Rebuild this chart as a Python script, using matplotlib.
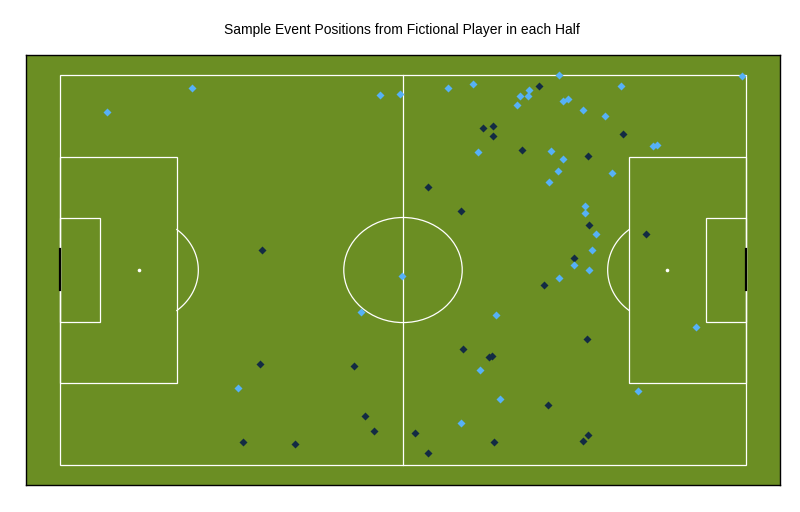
import matplotlib
matplotlib.use("Agg")
import matplotlib.pyplot as plt
from matplotlib.patches import Rectangle, Ellipse, Arc
import numpy as np

plt.rcParams['font.family'] = ['Liberation Sans', 'DejaVu Sans']

title = "Sample Event Positions from Fictional Player in each Half"

# Opta-style coordinates (0-100 both axes)
first_half_x = [69.8, 61.6, 63.1, 63.2, 82.1, 67.3, 76.95, 53.6, 58.5, 77.2,
                85.5, 75.0, 70.5, 29.4, 29.1, 42.8, 44.5, 45.8, 26.6, 34.2,
                76.8, 58.7, 62.5, 63.0, 71.1, 51.7, 77.0, 76.3, 63.3, 53.6]
first_half_y = [97.1, 86.4, 86.9, 84.3, 84.8, 80.8, 79.2, 71.3, 65.2, 61.4,
                59.3, 53.2, 46.1, 55.2, 25.9, 25.4, 12.7, 8.75, 6.0, 5.5,
                32.3, 29.7, 27.7, 28.0, 15.5, 8.3, 7.8, 6.3, 6.0, 3.2]

second_half_x = [6.78, 19.2, 46.7, 49.6, 56.5, 60.2, 72.7, 99.5, 67.1, 68.4,
                 68.2, 66.7, 81.8, 73.3, 74.0, 76.3, 79.4, 86.4, 87.0, 60.9,
                 71.6, 73.3, 72.6, 80.5, 71.3, 76.5, 76.5, 78.1, 77.5, 74.9,
                 77.2, 72.7, 49.9, 63.6, 92.8, 43.8, 26.0, 61.3, 84.3, 64.2,
                 58.4]
second_half_y = [90.4, 96.5, 94.8, 95.1, 96.6, 97.6, 100.0, 99.6, 94.5, 96.1,
                 94.6, 92.2, 97.1, 93.3, 93.8, 90.9, 89.4, 81.8, 82.0, 80.3,
                 80.5, 78.5, 75.4, 74.9, 72.6, 66.3, 64.6, 59.1, 55.2, 51.4,
                 49.9, 47.9, 48.6, 38.6, 35.4, 39.2, 19.8, 24.3, 19.0, 17.0,
                 10.9]

# pitch dimensions (opta)
pen_box_len = 17.0
pen_box_y = (21.1, 78.9)
six_len = 5.8
six_y = (36.8, 63.2)
pen_spot = 11.5
goal_y = (44.8, 55.4)
circ_rx, circ_ry = 8.64, 13.44

pitch_col = "#6B8E23"
line_col = "white"
lw = 0.9

fig = plt.figure(figsize=(8, 5.12), dpi=100)
ax = fig.add_axes([0.0325, 0.0527, 0.9425, 0.8398])
ax.set_facecolor(pitch_col)
ax.set_xlim(-5, 105)
ax.set_ylim(-5, 105)
ax.set_xticks([])
ax.set_yticks([])
for s in ax.spines.values():
    s.set_color("black")
    s.set_linewidth(1.0)

def rect(x0, y0, w, h):
    ax.add_patch(Rectangle((x0, y0), w, h, fill=False, ec=line_col, lw=lw, zorder=2))

rect(0, 0, 100, 100)
ax.plot([50, 50], [0, 100], color=line_col, lw=lw, zorder=2)
rect(0, pen_box_y[0], pen_box_len, pen_box_y[1] - pen_box_y[0])
rect(100 - pen_box_len, pen_box_y[0], pen_box_len, pen_box_y[1] - pen_box_y[0])
rect(0, six_y[0], six_len, six_y[1] - six_y[0])
rect(100 - six_len, six_y[0], six_len, six_y[1] - six_y[0])
ax.add_patch(Ellipse((50, 50), 2 * circ_rx, 2 * circ_ry, fill=False, ec=line_col, lw=lw, zorder=2))

# penalty arcs (D) outside boxes
dx = pen_box_len - pen_spot
ang = np.degrees(np.arccos(dx / circ_rx))
t = np.radians(np.linspace(-ang, ang, 100))
ax.plot(pen_spot + circ_rx * np.cos(t), 50 + circ_ry * np.sin(t), color=line_col, lw=lw, zorder=2)
ax.plot(100 - pen_spot - circ_rx * np.cos(t), 50 + circ_ry * np.sin(t), color=line_col, lw=lw, zorder=2)

ax.plot([pen_spot, 100 - pen_spot], [50, 50], 'o', color=line_col, ms=2.6, mec='none', zorder=2)

# goals
ax.plot([0, 0], list(goal_y), color="black", lw=1.6, zorder=3)
ax.plot([100, 100], list(goal_y), color="black", lw=1.6, zorder=3)

ax.plot(first_half_x, first_half_y, 'D', color="#132B43", ms=3.6, mec='none', zorder=4)
ax.plot(second_half_x, second_half_y, 'D', color="#56B1F7", ms=3.6, mec='none', zorder=4)

fig.text(0.503, 0.941, title, ha='center', va='center', fontsize=10, color='black')

fig.savefig("out.png", dpi=100, facecolor="white")
